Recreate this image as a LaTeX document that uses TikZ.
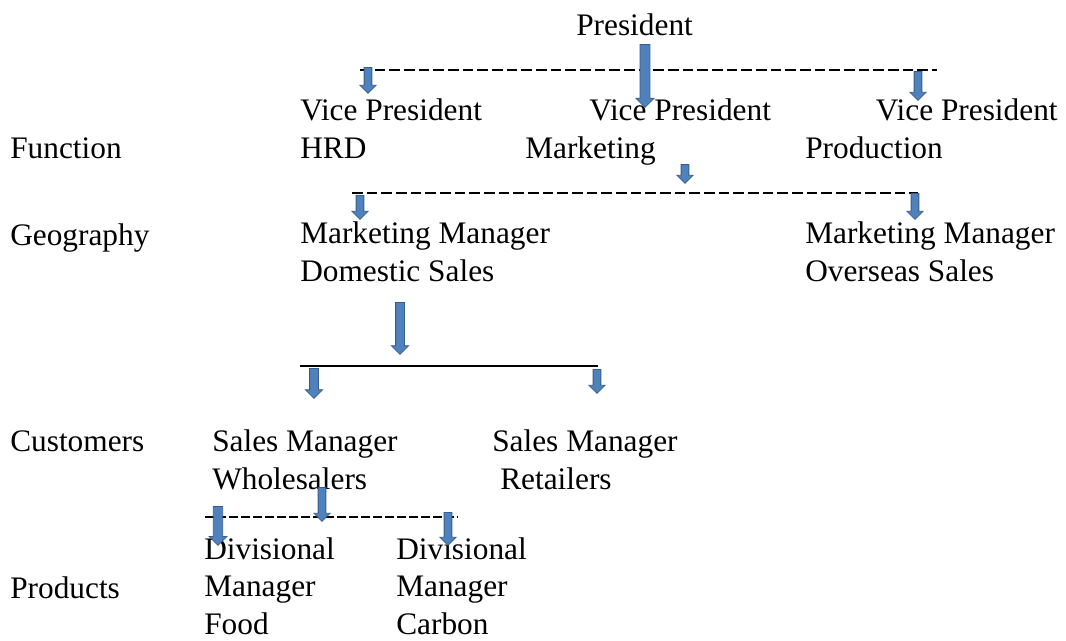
\documentclass[tikz,border=0pt]{standalone}
\usepackage{fontspec}
\setmainfont{Liberation Serif}
\usetikzlibrary{shapes.arrows}
\definecolor{arrfill}{HTML}{4F81BD}
\definecolor{arrline}{HTML}{385D8A}
\begin{document}
\begin{tikzpicture}[x=0.75pt,y=-0.75pt,
    lbl/.style={anchor=base west,inner sep=0pt,align=left,font=\fontsize{23.5pt}{28.1pt}\selectfont},
    bar/.style={line width=1.8pt,dash pattern=on 8pt off 3pt},
    blk/.style={single arrow,rotate=-90,anchor=tail,draw=arrline,fill=arrfill,line width=0.6pt,
      inner xsep=0pt,inner ysep=2.6pt,minimum width=0pt,single arrow head extend=3.2pt},
    arrlen/.style={minimum height=#1*0.75pt}]
  \useasboundingbox (0,0) rectangle (1066,640);
  % levels
  \node[lbl] (fn)   at (10,158) {Function};
  \node[lbl] (geo)  at (10,245) {Geography};
  \node[lbl] (cust) at (10,451) {Customers};
  \node[lbl] (prod) at (10,598) {Products};
  % chart (nodes sit on the baseline of their last line)
  \node[lbl] (pres)     at (576,35)  {President};
  \node[lbl] (vphrd)    at (300,158) {Vice President\\HRD};
  \node[lbl] (vpmkt)    at (525,158) {\hspace*{48pt}Vice President\\Marketing};
  \node[lbl] (vpprod)   at (805,158) {\hspace*{53pt}Vice President\\Production};
  \node[lbl] (mmdom)    at (300,281) {Marketing Manager\\Domestic Sales};
  \node[lbl] (mmover)   at (805,281) {Marketing Manager\\Overseas Sales};
  \node[lbl] (smwhole)  at (212,489) {Sales Manager\\Wholesalers};
  \node[lbl] (smretail) at (492,489) {Sales Manager\\\hspace*{6pt}Retailers};
  \node[lbl] (dmfood)   at (204,634) {Divisional\\Manager\\Food};
  \node[lbl] (dmcarbon) at (396,634) {Divisional\\Manager\\Carbon};
  % bars
  \draw[bar] (360,70) coordinate (b1l) -- (937,70) coordinate (b1r);
  \draw[bar] (352,193) coordinate (b2l) -- (918,193) coordinate (b2r);
  \draw[line width=1.8pt] (300,366) coordinate (b3l) -- (598,366) coordinate (b3r);
  \draw[bar,dash pattern=on 6.5pt off 2.5pt] (205,517) coordinate (b4l) -- (458,517) coordinate (b4r);
  % arrows
  \node[blk,arrlen=63,inner ysep=3.4pt] (a1) at (645,44) {};
  \node[blk,arrlen=26] (a2) at (368,67) {};
  \node[blk,arrlen=29] (a3) at (918,71) {};
  \node[blk,arrlen=19] (a4) at (685,164) {};
  \node[blk,arrlen=24] (a5) at (360,195) {};
  \node[blk,arrlen=26] (a6) at (915,193) {};
  \node[blk,arrlen=52,inner ysep=3pt] (a7) at (400,302) {};
  \node[blk,arrlen=30,inner ysep=3pt] (a8) at (314,368) {};
  \node[blk,arrlen=24] (a9) at (597,369) {};
  \node[blk,arrlen=39,inner ysep=3.2pt] (a10) at (218,506) {};
  \node[blk,arrlen=34] (a11) at (322,487) {};
  \node[blk,arrlen=33] (a12) at (448,512) {};
\end{tikzpicture}
\end{document}
